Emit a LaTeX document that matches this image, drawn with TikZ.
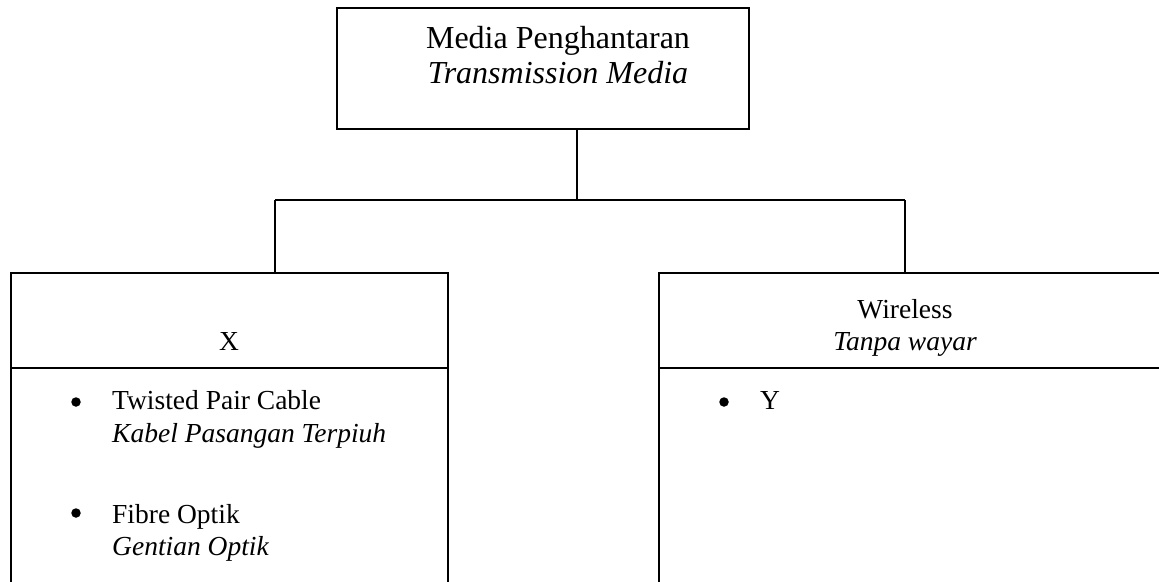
\documentclass[tikz,border=0pt]{standalone}
\usepackage{fontspec}
\setmainfont{Liberation Serif}
\begin{document}
\begin{tikzpicture}[x=1pt,y=-1pt,
  line/.style={line width=1.8pt,black},
  txt/.style={inner sep=0pt,font=\fontsize{27.5}{32}\selectfont},
  bigtxt/.style={inner sep=0pt,font=\fontsize{32}{35}\selectfont},
  dot/.style={circle,fill=black,inner sep=0pt,minimum size=9.5pt},
]
\useasboundingbox (0,0) rectangle (1159,581);
% top box
\node[line,draw,rectangle,minimum width=412pt,minimum height=121pt,anchor=north west,inner sep=0pt] (top) at (336,7) {};
\node[bigtxt,anchor=base] (t1) at (558,48) {Media Penghantaran};
\node[bigtxt,anchor=base] (t2) at (558,83) {\itshape Transmission Media};
% connector coordinates
\coordinate (jc) at (577,200);
\coordinate (jl) at (275,200);
\coordinate (jr) at (905,200);
\coordinate (lt) at (275,273);
\coordinate (rt) at (905,273);
\draw[line] (top.south -| jc) -- (jc);
\draw[line] (jl) -- (jr);
\draw[line] (jl) -- (lt);
\draw[line] (jr) -- (rt);
% left box (open at bottom)
\coordinate (lbl) at (11,585);
\coordinate (ltl) at (11,273);
\coordinate (ltr) at (448,273);
\coordinate (lbr) at (448,585);
\draw[line] (lbl) -- (ltl) -- (ltr) -- (lbr);
\coordinate (ldl) at (11,368);
\coordinate (ldr) at (448,368);
\draw[line] (ldl) -- (ldr);
% right box (open at bottom, runs past the right edge)
\coordinate (rbl) at (659,585);
\coordinate (rtl) at (659,273);
\coordinate (rtr) at (1165,273);
\draw[line] (rbl) -- (rtl) -- (rtr);
\coordinate (rdl) at (659,368);
\coordinate (rdr) at (1165,368);
\draw[line] (rdl) -- (rdr);
% headers
\node[txt,anchor=base] (x) at (229,350) {X};
\node[txt,anchor=base] (w1) at (905,318) {Wireless};
\node[txt,anchor=base] (w2) at (905,350) {\itshape Tanpa wayar};
% left list
\node[dot] (b1) at (76,402) {};
\node[txt,anchor=base west] (l1) at (112,409) {Twisted Pair Cable};
\node[txt,anchor=base west] (l2) at (112,442) {\itshape Kabel Pasangan Terpiuh};
\node[dot] (b2) at (76,513) {};
\node[txt,anchor=base west] (l3) at (112,523) {Fibre Optik};
\node[txt,anchor=base west] (l4) at (112,555) {\itshape Gentian Optik};
% right list
\node[dot] (b3) at (724,402) {};
\node[txt,anchor=base west] (y) at (760,409) {Y};
\end{tikzpicture}
\end{document}
